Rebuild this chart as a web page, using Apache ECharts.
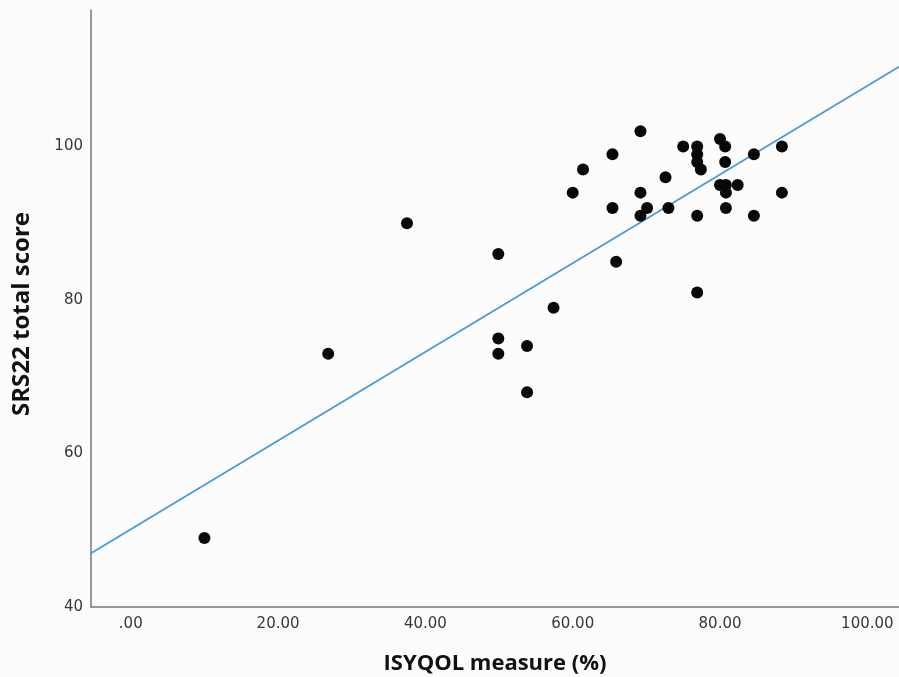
<!DOCTYPE html>
<html>
<head>
<meta charset="utf-8">
<script src="https://cdn.jsdelivr.net/npm/echarts@6/dist/echarts.min.js"></script>
<style>
  html, body { margin: 0; padding: 0; background: #fcfcfc; }
  #chart { width: 899px; height: 677px; }
</style>
</head>
<body>
<div id="chart"></div>
<script>
// ISYQOL (%) values, one per subject
var isyqol = [10.0, 26.8, 37.5, 49.9, 49.9, 49.9, 53.8, 53.8, 57.4, 60.0,
  61.4, 65.4, 65.4, 65.9, 69.2, 69.2, 69.2, 70.1, 72.6, 73.0,
  75.0, 76.9, 76.9, 76.9, 77.4, 76.9, 76.9, 80.0, 80.7, 80.7,
  80.0, 80.8, 80.8, 80.8, 82.4, 84.6, 84.6, 88.4, 88.4];
// SRS22 total score, same order
var srs22 = [49, 73, 90, 86, 75, 73, 74, 68, 79, 94,
  97, 99, 92, 85, 102, 94, 91, 92, 96, 92,
  100, 100, 99, 98, 97, 91, 81, 101, 100, 98,
  95, 95, 94, 92, 95, 99, 91, 100, 94];

// fit line end points
var fitX = [-5.4, 104.3];
var fitY = [47.0, 110.4];

var xTicks = [0, 20, 40, 60, 80, 100];
var yTicks = [40, 60, 80, 100];

var points = isyqol.map(function (v, i) { return [v, srs22[i]]; });
var fitLine = fitX.map(function (v, i) { return [v, fitY[i]]; });

var chart = echarts.init(document.getElementById('chart'));

chart.setOption({
  backgroundColor: '#fcfcfc',
  animation: false,
  grid: { left: 91, top: 10, right: 0, bottom: 70, outerBoundsMode: 'none', containLabel: false },
  xAxis: {
    type: 'value',
    min: -5.4,
    max: 104.3,
    name: 'ISYQOL measure (%)',
    nameLocation: 'middle',
    nameGap: 46,
    nameTextStyle: { fontFamily: 'Open Sans', fontWeight: 'bold', fontSize: 22, color: '#111' },
    splitLine: { show: false },
    axisTick: { show: false },
    axisLine: { onZero: false, lineStyle: { color: '#777', width: 1.5 } },
    axisLabel: {
      customValues: xTicks,
      fontFamily: 'DejaVu Sans',
      fontSize: 15,
      color: '#383838',
      margin: 10,
      formatter: function (v) { return v === 0 ? '.00' : v.toFixed(2); }
    }
  },
  yAxis: {
    type: 'value',
    min: 40,
    max: 117.8,
    splitLine: { show: false },
    axisTick: { show: false },
    axisLine: { show: true, onZero: false, lineStyle: { color: '#777', width: 1.5 } },
    axisLabel: {
      customValues: yTicks,
      fontFamily: 'DejaVu Sans',
      fontSize: 15,
      color: '#383838',
      margin: 8
    }
  },
  graphic: [{
    type: 'text',
    x: 22,
    y: 314,
    rotation: Math.PI / 2,
    style: {
      text: 'SRS22 total score',
      fontFamily: 'Open Sans',
      fontWeight: 'bold',
      fontSize: 24,
      fill: '#111',
      align: 'center',
      verticalAlign: 'middle'
    }
  }],
  series: [
    {
      type: 'line',
      data: fitLine,
      symbol: 'none',
      lineStyle: { color: '#4a98d6', width: 1.8 },
      z: 2
    },
    {
      type: 'scatter',
      data: points,
      symbolSize: 12,
      itemStyle: { color: '#080808', opacity: 1 },
      z: 3
    }
  ]
});
</script>
</body>
</html>
